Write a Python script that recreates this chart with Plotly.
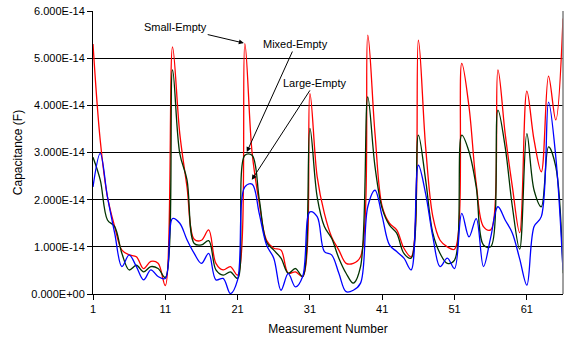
import plotly.graph_objects as go

SCALE = 1e-14
measurement = list(range(1, 67))

small_empty = [5.30, 3.26, 2.06, 1.43, 0.93, 0.83, 0.79, 0.54, 0.69, 0.65,
               0.18, 5.24, 3.40, 2.27, 1.16, 1.14, 1.36, 0.65, 0.51, 0.58,
               0.40, 5.31, 3.00, 1.92, 1.14, 0.97, 0.93, 0.44, 0.47, 0.37,
               4.25, 2.49, 1.71, 1.21, 0.93, 0.65, 0.65, 0.79, 5.49, 3.40,
               1.85, 1.50, 1.36, 0.97, 0.79, 5.38, 3.12, 1.64, 1.14, 1.00,
               0.95, 4.89, 3.97, 2.34, 1.43, 1.36, 4.75, 3.40, 2.27, 1.30,
               4.30, 3.26, 2.59, 4.62, 3.69, 5.84]
mixed_empty = [2.90, 2.42, 1.57, 1.43, 0.86, 0.51, 0.61, 0.47, 0.58, 0.54,
               0.35, 4.75, 2.98, 2.42, 1.07, 1.04, 1.13, 0.51, 0.40, 0.47,
               0.33, 2.94, 2.94, 2.00, 1.10, 0.93, 0.76, 0.44, 0.54, 0.37,
               3.51, 2.06, 1.43, 1.18, 0.76, 0.44, 0.23, 0.58, 4.18, 2.70,
               1.81, 1.46, 1.29, 0.86, 0.76, 3.37, 2.42, 1.29, 0.86, 0.65,
               0.72, 3.37, 3.02, 2.27, 1.04, 1.00, 3.90, 3.12, 1.85, 0.95,
               3.40, 2.20, 1.85, 3.12, 2.70, 0.44]
large_empty = [2.27, 2.98, 2.06, 1.29, 0.58, 0.83, 0.58, 0.30, 0.51, 0.37,
               0.33, 1.60, 1.50, 1.15, 0.86, 0.65, 0.86, 0.30, 0.33, 0.01,
               0.30, 2.27, 2.33, 1.70, 1.04, 0.76, 0.08, 0.43, 0.15, 0.37,
               1.74, 1.64, 0.90, 0.83, 0.44, 0.05, 0.08, 0.23, 1.85, 2.20,
               1.64, 1.04, 0.90, 0.76, 0.51, 2.73, 2.13, 1.21, 0.58, 0.76,
               0.54, 1.71, 1.21, 1.60, 0.58, 1.20, 1.85, 1.57, 1.29, 0.75,
               0.19, 1.43, 1.64, 4.07, 2.91, 0.51]

series_names = ["Small-Empty", "Mixed-Empty", "Large-Empty"]
series_colors = ["#FF0000", "#003300", "#0000FF"]
series_values = [small_empty, mixed_empty, large_empty]

y_ticks = [0, 1, 2, 3, 4, 5, 6]
y_tick_text = ["0.000E+00", "1.000E-14", "2.000E-14", "3.000E-14",
               "4.000E-14", "5.000E-14", "6.000E-14"]
x_ticks = [1, 11, 21, 31, 41, 51, 61]

FONT = "Liberation Sans, Arial, sans-serif"

fig = go.Figure()
for name, color, vals in zip(series_names, series_colors, series_values):
    fig.add_trace(go.Scatter(
        x=measurement, y=[v * SCALE for v in vals], name=name,
        mode="lines", line=dict(color=color, width=1.3, shape="spline", smoothing=1.0),
        showlegend=False, hoverinfo="skip"))

# labels: (text, head x, head y (1e-14), tail offset px)
labels = [("Small-Empty", 21.86, 5.32, -68, -16),
          ("Mixed-Empty", 22.27, 3.01, 49, -108),
          ("Large-Empty", 22.96, 2.42, 63, -97)]
for text, hx, hy, ax, ay in labels:
    fig.add_annotation(x=hx, y=hy * SCALE, text=text, showarrow=True,
                       ax=ax, ay=ay, arrowhead=2, arrowsize=1, arrowwidth=1,
                       arrowcolor="black", font=dict(family=FONT, size=11, color="black"))

fig.update_layout(
    width=565, height=342,
    margin=dict(l=93, r=2, t=11, b=48),
    paper_bgcolor="white", plot_bgcolor="white",
    font=dict(family=FONT, size=11, color="black"),
    xaxis=dict(range=[1, 66], tickvals=x_ticks, ticks="outside", ticklen=5,
               tickcolor="black", showline=True, linecolor="black", linewidth=1,
               showgrid=False, zeroline=False,
               title=dict(text="Measurement Number", font=dict(size=12), standoff=10)),
    yaxis=dict(range=[0, 6 * SCALE], tickvals=[t * SCALE for t in y_ticks],
               ticktext=y_tick_text, ticks="outside", ticklen=5, tickcolor="black",
               showline=True, linecolor="black", linewidth=1,
               showgrid=True, gridcolor="black", gridwidth=1, zeroline=False,
               title=dict(text="Capacitance (F)", font=dict(size=12), standoff=6)),
    shapes=[dict(type="line", xref="paper", yref="paper", x0=1, y0=0, x1=1, y1=1,
                 line=dict(color="#808080", width=1.5), layer="above")],
)

fig.write_html("out.html")
